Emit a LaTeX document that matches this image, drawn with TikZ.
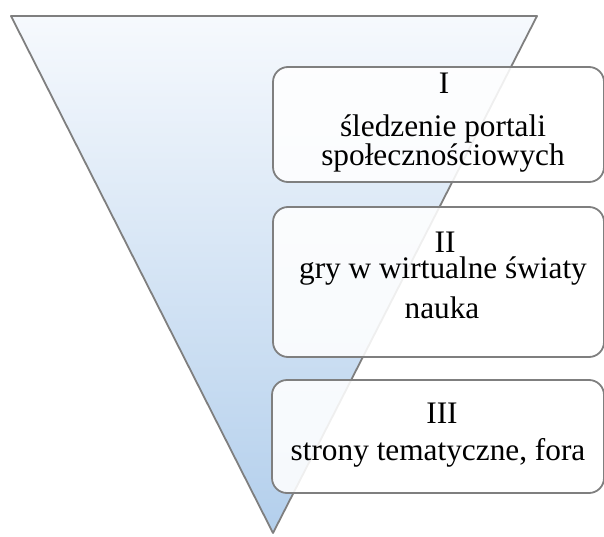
\documentclass[tikz,border=0pt]{standalone}
\usepackage{fontspec}
\setmainfont{Liberation Serif}
\usepackage{xcolor}
\usetikzlibrary{positioning,calc}
\definecolor{funneltop}{HTML}{F6F9FD}
\definecolor{funnelbot}{HTML}{B3CFEC}
\definecolor{edgegray}{HTML}{7F7F7F}

\begin{document}
\begin{tikzpicture}[x=1pt, y=-1pt,
  levelbox/.style={draw=edgegray, line width=1.8pt, rounded corners=15pt, fill=white, fill opacity=0.88},
  txt/.style={font=\fontsize{31.3}{25}\selectfont, align=center, anchor=base, inner sep=0pt}
]
\useasboundingbox (0,0) rectangle (604,537);
\clip (0,0) rectangle (604,537);
% funnel
\coordinate (tl) at (11,16);
\coordinate (tr) at (537,16);
\coordinate (apex) at (273,533);
\shade[top color=funneltop, bottom color=funnelbot] (tl) -- (tr) -- (apex) -- cycle;
\draw[edgegray, line width=1.8pt, line join=round] (tl) -- (tr) -- (apex) -- cycle;
% levels
\draw[levelbox] (273,67) rectangle (604,182);
\draw[levelbox] (273,207) rectangle (604,357);
\draw[levelbox] (272,380) rectangle (604,493);
\node[txt] (lvlI) at (444,94) {I};
\node[txt] (lvlIa) at (443,166) {śledzenie portali\\społecznościowych};
\node[txt, font=\fontsize{31.3}{26}\selectfont] (lvlII) at (443,278) {\hspace*{4pt}II\\gry w wirtualne światy};
\node[txt] (lvlIIb) at (442,318) {nauka};
\node[txt] (lvlIII) at (442,423) {III};
\node[txt] (lvlIIIa) at (438,460) {strony tematyczne, fora};
\end{tikzpicture}
\end{document}
